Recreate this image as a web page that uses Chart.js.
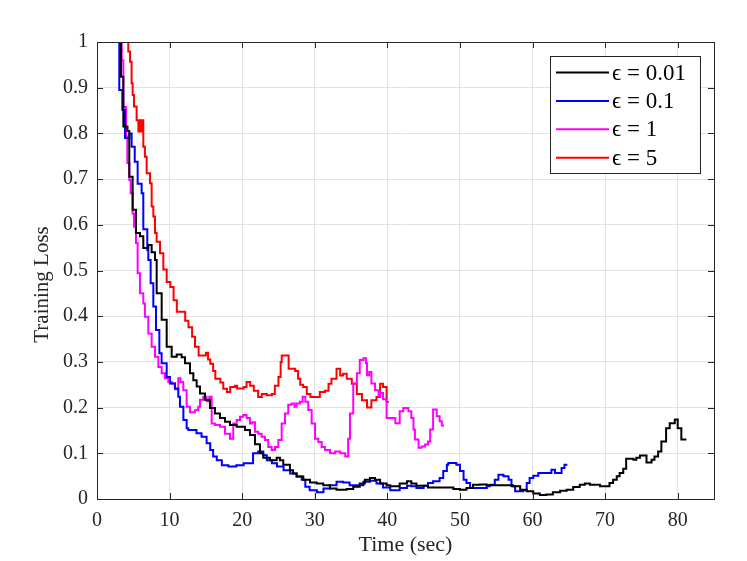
<!DOCTYPE html>
<html>
<head>
<meta charset="utf-8">
<script src="https://cdn.jsdelivr.net/npm/chart.js@4.4.1/dist/chart.umd.min.js"></script>
<style>
  html, body { margin: 0; padding: 0; background: #fff; }
  #wrap { width: 747px; height: 561px; position: relative; }
</style>
</head>
<body>
<div id="wrap"><canvas id="lossChart"></canvas></div>
<script>
// --- Training loss vs time, one stairs curve per epsilon ---
const xTicks = [0, 10, 20, 30, 40, 50, 60, 70, 80];
const yTicks = [0, 0.1, 0.2, 0.3, 0.4, 0.5, 0.6, 0.7, 0.8, 0.9, 1];
const seriesLabels = ['\u03F5 = 0.01', '\u03F5 = 0.1', '\u03F5 = 1', '\u03F5 = 5'];
const seriesColors = ['#000000', '#0000ff', '#ff00ff', '#ff0000'];
const xTitle = 'Time (sec)';
const yTitle = 'Training Loss';

// eps = 0.01 (black)
const t001 = [3.1, 3.31, 3.63, 4.2, 4.45, 4.91, 5.37, 5.92, 6.38, 7.07, 7.53, 7.99, 8.22, 8.91, 9.6,
  10.29, 10.98, 11.66, 12.12, 12.81, 13.27, 13.73, 14.19, 14.88, 15.56, 16.25, 16.94, 17.63, 18.32, 19.24,
  20.39, 21.07, 21.76, 22.45, 22.91, 23.83, 24.75, 25.2, 25.66, 26.58, 27.0, 27.5, 28.42, 29.34, 30.26,
  31.17, 32.09, 33.0, 34.4, 35.3, 36.2, 36.9, 37.6, 38.3, 39.0, 39.9, 40.4, 41.7, 42.7, 43.3,
  44.0, 45.6, 49.1, 50.0, 50.9, 51.8, 52.75, 53.7, 56.4, 57.3, 58.3, 59.2, 60.1, 61.0, 61.9,
  62.8, 63.8, 64.7, 65.6, 66.5, 67.2, 67.9, 69.3, 70.6, 71.1, 71.6, 72.0, 72.5, 72.9, 73.9,
  74.3, 74.8, 75.7, 76.4, 76.8, 77.3, 77.75, 78.4, 78.9, 79.6, 80.0, 80.5, 81.2];
const loss001 = [1.05, 0.924, 0.815, 0.805, 0.705, 0.633, 0.582, 0.575, 0.549, 0.556, 0.54, 0.523, 0.45, 0.392, 0.333,
  0.311, 0.316, 0.31, 0.297, 0.275, 0.26, 0.246, 0.231, 0.217, 0.199, 0.187, 0.177, 0.169, 0.162, 0.158,
  0.151, 0.14, 0.12, 0.1, 0.09, 0.085, 0.09, 0.085, 0.075, 0.063, 0.056, 0.049, 0.042, 0.036, 0.034,
  0.03, 0.023, 0.02, 0.022, 0.027, 0.034, 0.042, 0.046, 0.042, 0.034, 0.03, 0.028, 0.034, 0.039, 0.034,
  0.029, 0.025, 0.022, 0.02, 0.024, 0.031, 0.032, 0.03, 0.03, 0.028, 0.02, 0.017, 0.012, 0.009, 0.01,
  0.015, 0.018, 0.02, 0.026, 0.031, 0.034, 0.031, 0.028, 0.035, 0.042, 0.05, 0.057, 0.066, 0.088, 0.086,
  0.09, 0.095, 0.08, 0.086, 0.093, 0.104, 0.126, 0.155, 0.166, 0.174, 0.155, 0.13, 0.13];

// eps = 0.1 (blue)
const t01 = [2.9, 3.07, 3.49, 3.86, 4.45, 4.77, 5.2, 5.6, 6.15, 6.38, 6.93, 7.07, 7.39, 7.76, 8.13,
  8.59, 8.9, 9.6, 10.06, 10.74, 11.2, 11.43, 11.9, 12.35, 12.58, 13.7, 14.4, 15.1, 15.6, 16.0,
  16.5, 17.2, 18.1, 19.2, 20.2, 21.5, 22.2, 22.9, 23.4, 24.1, 24.8, 25.7, 26.6, 27.5, 28.2,
  28.7, 29.3, 30.3, 31.2, 32.1, 33.0, 33.9, 34.8, 35.8, 36.7, 37.6, 38.5, 39.4, 40.4, 41.7,
  42.7, 43.3, 44.0, 45.0, 45.6, 46.3, 47.2, 47.7, 48.2, 48.4, 49.5, 50.0, 50.5, 50.9, 51.4,
  53.7, 54.1, 54.8, 55.3, 56.0, 56.7, 57.1, 57.6, 58.7, 59.2, 59.6, 60.1, 60.8, 61.9, 62.6,
  63.1, 63.8, 64.0, 64.4, 64.8];
const loss01 = [1.05, 0.895, 0.851, 0.79, 0.8, 0.771, 0.738, 0.69, 0.669, 0.59, 0.545, 0.523, 0.472, 0.421, 0.37,
  0.319, 0.297, 0.267, 0.253, 0.242, 0.224, 0.202, 0.173, 0.155, 0.151, 0.144, 0.136, 0.122, 0.107, 0.093,
  0.085, 0.074, 0.071, 0.074, 0.078, 0.1, 0.104, 0.096, 0.085, 0.078, 0.071, 0.063, 0.056, 0.049, 0.042,
  0.027, 0.019, 0.015, 0.023, 0.03, 0.038, 0.036, 0.03, 0.03, 0.038, 0.04, 0.034, 0.025, 0.019, 0.024,
  0.029, 0.028, 0.024, 0.029, 0.035, 0.039, 0.046, 0.061, 0.075, 0.079, 0.075, 0.061, 0.042, 0.035, 0.024,
  0.028, 0.031, 0.042, 0.053, 0.05, 0.042, 0.028, 0.017, 0.019, 0.035, 0.046, 0.051, 0.057, 0.057, 0.064,
  0.057, 0.057, 0.068, 0.075, 0.075];

// eps = 1 (magenta)
const t1 = [3.2, 3.4, 3.63, 4.0, 4.18, 4.45, 4.64, 4.91, 5.1, 5.37, 5.6, 5.92, 6.38, 6.6, 7.07,
  7.53, 7.99, 8.45, 8.91, 9.37, 9.82, 10.29, 10.74, 11.2, 11.5, 11.89, 12.35, 12.81, 13.5, 13.96,
  14.19, 14.64, 15.1, 15.47, 15.8, 16.25, 16.94, 17.63, 18.32, 18.77, 19.24, 19.7, 20.15, 20.6, 21.07,
  21.4, 21.76, 22.2, 22.68, 23.14, 23.6, 24.06, 24.52, 24.98, 25.44, 25.9, 26.35, 26.81, 27.2, 27.5,
  27.96, 28.33, 28.7, 29.1, 29.57, 30.03, 30.49, 30.95, 31.4, 32.1, 32.8, 33.5, 34.2, 34.6, 34.85,
  35.3, 35.8, 36.2, 36.7, 37.05, 37.2, 37.5, 37.8, 38.3, 38.8, 39.0, 39.4, 39.9, 40.6, 41.1,
  41.7, 42.2, 42.9, 43.3, 43.6, 43.8, 44.3, 44.7, 45.2, 45.6, 45.9, 46.3, 46.8, 47.2, 47.5, 47.8];
const loss1 = [1.05, 0.96, 0.858, 0.793, 0.735, 0.698, 0.669, 0.625, 0.596, 0.56, 0.494, 0.45, 0.428, 0.399, 0.362,
  0.333, 0.311, 0.289, 0.275, 0.264, 0.256, 0.253, 0.24, 0.264, 0.256, 0.238, 0.202, 0.19, 0.194, 0.202,
  0.217, 0.224, 0.214, 0.224, 0.165, 0.162, 0.158, 0.143, 0.132, 0.165, 0.173, 0.18, 0.184, 0.177, 0.165,
  0.168, 0.147, 0.143, 0.136, 0.129, 0.114, 0.107, 0.114, 0.129, 0.165, 0.187, 0.206, 0.209, 0.202, 0.209,
  0.213, 0.224, 0.213, 0.195, 0.165, 0.132, 0.125, 0.114, 0.107, 0.1, 0.104, 0.1, 0.093, 0.132, 0.187,
  0.253, 0.275, 0.304, 0.308, 0.297, 0.271, 0.278, 0.253, 0.238, 0.225, 0.232, 0.218, 0.177, 0.177, 0.166,
  0.192, 0.199, 0.192, 0.177, 0.152, 0.13, 0.112, 0.115, 0.119, 0.126, 0.152, 0.196, 0.181, 0.17, 0.161, 0.161];

// eps = 5 (red)
const t5 = [4.1, 4.31, 4.55, 4.77, 4.91, 5.1, 5.46, 5.7, 5.85, 6.0, 6.15, 6.38, 6.6, 6.84, 7.3,
  7.53, 7.76, 7.99, 8.22, 8.68, 9.14, 9.6, 10.1, 10.55, 11.0, 12.15, 12.6, 13.1, 13.5, 14.0,
  15.0, 15.3, 15.6, 16.0, 16.3, 17.0, 17.4, 17.9, 18.35, 19.0, 19.3, 20.2, 20.6, 21.1, 21.6,
  22.2, 22.7, 23.4, 24.1, 24.5, 25.0, 25.3, 25.45, 26.4, 27.3, 27.7, 28.0, 28.4, 28.9, 29.4,
  30.7, 31.4, 31.9, 32.3, 33.0, 33.5, 33.9, 34.4, 35.1, 35.8, 36.5, 37.2, 37.8, 38.5, 39.0,
  39.4, 39.9, 40.2];
const loss5 = [1.05, 0.979, 0.957, 0.91, 0.884, 0.859, 0.829, 0.804, 0.829, 0.804, 0.829, 0.771, 0.749, 0.713, 0.691,
  0.64, 0.618, 0.582, 0.563, 0.538, 0.502, 0.475, 0.464, 0.435, 0.41, 0.39, 0.376, 0.355, 0.333, 0.314,
  0.32, 0.305, 0.296, 0.28, 0.263, 0.255, 0.241, 0.234, 0.245, 0.248, 0.242, 0.245, 0.256, 0.248, 0.237,
  0.223, 0.23, 0.227, 0.23, 0.248, 0.267, 0.3, 0.314, 0.285, 0.28, 0.263, 0.25, 0.245, 0.23, 0.223,
  0.234, 0.237, 0.252, 0.263, 0.285, 0.27, 0.274, 0.263, 0.252, 0.23, 0.216, 0.2, 0.216, 0.223, 0.252,
  0.245, 0.212, 0.212];

const seriesX = [t001, t01, t1, t5];
const seriesY = [loss001, loss01, loss1, loss5];

const AXIS_COLOR = '#262626';
const GRID_COLOR = '#e3e3e3';
const FONT_FAMILY = '"Liberation Serif", "DejaVu Serif", serif';

// box + inward tick marks on all four sides, MATLAB style
const framePlugin = {
    id: 'frame',
    afterDatasetsDraw(chart) {
        const { ctx, chartArea: a, scales } = chart;
        ctx.save();
        ctx.strokeStyle = AXIS_COLOR;
        ctx.lineWidth = 1;
        ctx.beginPath();
        xTicks.forEach(v => {
            const px = Math.round(scales.x.getPixelForValue(v)) + 0.5;
            ctx.moveTo(px, a.bottom); ctx.lineTo(px, a.bottom - 6);
            ctx.moveTo(px, a.top); ctx.lineTo(px, a.top + 6);
        });
        yTicks.forEach(v => {
            const py = Math.round(scales.y.getPixelForValue(v)) + 0.5;
            ctx.moveTo(a.left, py); ctx.lineTo(a.left + 6, py);
            ctx.moveTo(a.right, py); ctx.lineTo(a.right - 6, py);
        });
        ctx.stroke();
        ctx.strokeRect(Math.round(a.left) + 0.5, Math.round(a.top) + 0.5,
            Math.round(a.right - a.left), Math.round(a.bottom - a.top));

        // y label sits a little below the axis middle, as in the source figure
        ctx.fillStyle = AXIS_COLOR;
        ctx.font = '21px ' + FONT_FAMILY;
        ctx.textAlign = 'center';
        ctx.textBaseline = 'middle';
        ctx.translate(42, (a.top + a.bottom) / 2 + 14);
        ctx.rotate(-Math.PI / 2);
        ctx.fillText(yTitle, 0, 0);
        ctx.restore();
    }
};

// legend box in the top-right corner of the axes
const legendPlugin = {
    id: 'boxLegend',
    afterDraw(chart) {
        const { ctx, chartArea: a } = chart;
        const boxR = a.right - 14, boxT = a.top + 14;
        const boxW = 150, boxH = 117;
        const boxL = boxR - boxW;
        ctx.save();
        ctx.fillStyle = '#fff';
        ctx.fillRect(boxL, boxT, boxW, boxH);
        ctx.strokeStyle = AXIS_COLOR;
        ctx.lineWidth = 1;
        ctx.strokeRect(Math.round(boxL) + 0.5, Math.round(boxT) + 0.5, boxW, boxH);
        ctx.textBaseline = 'middle';
        ctx.font = '23px ' + FONT_FAMILY;
        chart.data.datasets.forEach((ds, i) => {
            const y = boxT + 16.5 + i * 28.4;
            ctx.strokeStyle = ds.borderColor;
            ctx.lineWidth = 2;
            ctx.beginPath();
            ctx.moveTo(boxL + 6, y);
            ctx.lineTo(boxL + 59, y);
            ctx.stroke();
            ctx.fillStyle = '#000';
            ctx.fillText(ds.label, boxL + 62, y + 1);
        });
        ctx.restore();
    }
};

function initLossChart() {
    const ctx = document.getElementById('lossChart').getContext('2d');

    const datasets = seriesLabels.map((label, i) => ({
        label: label,
        data: seriesX[i].map((x, k) => ({ x: x, y: seriesY[i][k] })),
        borderColor: seriesColors[i],
        backgroundColor: seriesColors[i],
        borderWidth: 2,
        pointRadius: 0,
        stepped: 'before',
        fill: false
    }));

    new Chart(ctx, {
        type: 'line',
        data: { datasets: datasets },
        options: {
            responsive: true,
            maintainAspectRatio: false,
            animation: false,
            layout: { padding: { top: 42, right: 33, left: 0, bottom: 0 } },
            plugins: {
                legend: { display: false },
                tooltip: { enabled: false }
            },
            scales: {
                x: {
                    type: 'linear',
                    min: 0,
                    max: 85,
                    afterBuildTicks: (scale) => { scale.ticks = xTicks.map(v => ({ value: v })); },
                    afterFit: (scale) => { scale.height = 62; },
                    grid: { color: GRID_COLOR, drawTicks: false },
                    border: { display: false },
                    ticks: {
                        color: AXIS_COLOR,
                        padding: 10,
                        maxRotation: 0,
                        font: { family: FONT_FAMILY, size: 20 }
                    },
                    title: {
                        display: true,
                        text: xTitle,
                        color: AXIS_COLOR,
                        padding: { top: 0, bottom: 3 },
                        font: { family: FONT_FAMILY, size: 22 }
                    }
                },
                y: {
                    type: 'linear',
                    min: 0,
                    max: 1,
                    afterBuildTicks: (scale) => { scale.ticks = yTicks.map(v => ({ value: v })); },
                    afterFit: (scale) => { scale.width = 97; },
                    grid: { color: GRID_COLOR, drawTicks: false },
                    border: { display: false },
                    ticks: {
                        color: AXIS_COLOR,
                        padding: 9,
                        font: { family: FONT_FAMILY, size: 20 },
                        callback: (val) => String(+val.toFixed(1))
                    },
                    title: { display: false }
                }
            }
        },
        plugins: [framePlugin, legendPlugin]
    });
}

initLossChart();
</script>
</body>
</html>
